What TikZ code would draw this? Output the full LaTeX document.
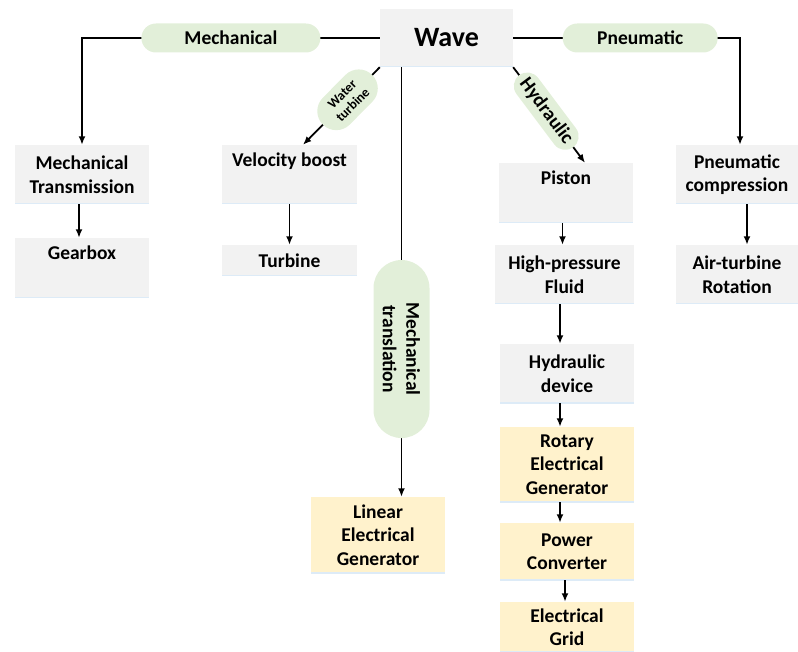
\documentclass[tikz,border=0pt]{standalone}
\usepackage{fontspec}
\setmainfont{Carlito}
\usepackage{tikz}
\usetikzlibrary{arrows.meta,positioning,backgrounds}
\definecolor{boxgray}{RGB}{242,242,242}
\definecolor{genyellow}{RGB}{255,242,204}
\definecolor{routegreen}{RGB}{226,239,217}
\definecolor{edgeblue}{RGB}{221,235,247}
\tikzset{
	stage/.style={fill=boxgray, minimum width=134pt, minimum height=59pt, inner sep=1pt, align=center,
		font=\bfseries\fontsize{19.5}{23.5}\selectfont,
		path picture={\draw[edgeblue,line width=2.4pt] (path picture bounding box.south west) -- (path picture bounding box.south east);}},
	gen/.style={stage, fill=genyellow},
	route/.style={fill=routegreen, inner sep=1pt, align=center, font=\bfseries\fontsize{19.5}{23.5}\selectfont,
		minimum height=29pt, rounded corners=14.5pt},
	arr/.style={line width=1.8pt, -{Latex[length=8.5pt,width=7pt]}}
}

\begin{document}
\begin{tikzpicture}[x=1pt,y=-1pt]
	\useasboundingbox (0,0) rectangle (798,652);
	
	% source
	\node[stage, minimum width=133pt, minimum height=58pt, font=\bfseries\fontsize{28}{32}\selectfont] (wave) at (446.5,38) {Wave};
	
	% mechanical branch
	\node[stage] (mtrans) at (82,174.5) {Mechanical\\Transmission};
	\node[stage, minimum height=60pt] (gearbox) at (82,268) {Gearbox\\\strut};
	
	% water turbine branch
	\node[stage, minimum width=135pt] (vboost) at (289.5,174.5) {Velocity boost\\\strut};
	\node[stage, minimum width=135pt, minimum height=31pt] (turbine) at (289.5,260.5) {Turbine};
	
	% linear generator
	\node[gen, minimum height=76pt] (lingen) at (378,535) {Linear\\Electrical\\Generator};
	
	% hydraulic branch
	\node[stage, minimum height=60pt] (piston) at (566,193) {Piston\\\strut};
	\node[stage, minimum width=139pt] (hpf) at (564.5,274.5) {High-pressure\\Fluid};
	\node[stage] (hdev) at (567,373.5) {Hydraulic\\device};
	\node[gen, minimum height=75pt] (rotgen) at (567,464.5) {Rotary\\Electrical\\Generator};
	\node[gen, minimum height=57pt] (pconv) at (567,551.5) {Power\\Converter};
	\node[gen, minimum height=50pt] (egrid) at (567,627) {Electrical\\Grid};
	
	% pneumatic branch
	\node[stage, minimum width=122pt] (pcomp) at (737,174.5) {Pneumatic\\compression};
	\node[stage, minimum width=122pt] (airturb) at (737,274.5) {Air-turbine\\Rotation};
	
	% routes out of the wave box
	\draw[arr] (wave.west) -- node[route, minimum width=179pt] (mech) {Mechanical} (wave.west -| mtrans.north) -- (mtrans.north);
	\draw[arr] (wave.east) -- node[route, minimum width=155pt, pos=.56] (pneu) {Pneumatic} ([xshift=3pt]wave.east -| pcomp.north) -- ([xshift=3pt]pcomp.north);
	\draw[arr] (wave.south west) -- node[route, sloped, pos=.42, minimum width=70pt, minimum height=38pt, rounded corners=19pt,
		font=\bfseries\fontsize{13.5}{15}\selectfont] (wturb) {Water\\turbine} ([xshift=13.5pt]vboost.north);
	\draw[arr] (wave.south east) -- node[route, sloped, pos=.46, minimum width=90pt, minimum height=27pt, rounded corners=13.5pt] (hydr) {Hydraulic} ([xshift=19pt]piston.north);
	\draw[arr] ([xshift=-45pt]wave.south) -- node[route, rotate=-90, pos=.656, minimum width=178pt, minimum height=56pt, rounded corners=28pt] (mtrl) {Mechanical\\translation} ([xshift=-45pt]wave.south |- lingen.north);
	
	% chains
	\draw[arr] ([xshift=-3pt]mtrans.south) -- ([xshift=-3pt]gearbox.north);
	\draw[arr] (vboost.south) -- (turbine.north);
	\draw[arr] ([xshift=-2pt]hpf.north |- piston.south) -- ([xshift=-2pt]hpf.north);
	\draw[arr] ([xshift=-4.5pt]hpf.south) -- ([xshift=-4.5pt]hpf.south |- hdev.north);
	\draw[arr] ([xshift=-7pt]hdev.south) -- ([xshift=-7pt]rotgen.north);
	\draw[arr] ([xshift=-7pt]rotgen.south) -- ([xshift=-7pt]pconv.north);
	\draw[arr] ([xshift=-2pt]pconv.south) -- ([xshift=-2pt]egrid.north);
	\draw[arr] ([xshift=10pt]pcomp.south) -- ([xshift=10pt]airturb.north);
\end{tikzpicture}
\end{document}
